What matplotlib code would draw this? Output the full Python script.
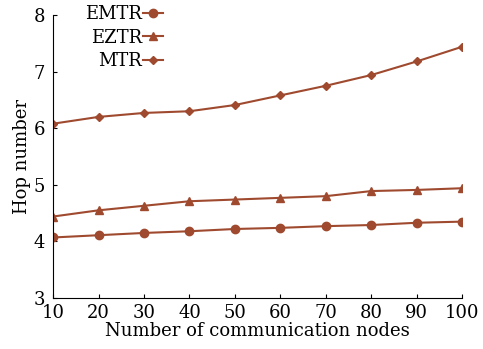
import numpy as np
import matplotlib.pyplot as plt

# hop counts versus network size
nodes = [10, 20, 30, 40, 50, 60, 70, 80, 90, 100]
emtr = [4.07, 4.11, 4.15, 4.18, 4.22, 4.24, 4.27, 4.29, 4.33, 4.35]
eztr = [4.44, 4.55, 4.63, 4.71, 4.74, 4.77, 4.80, 4.89, 4.91, 4.94]
mtr = [6.08, 6.20, 6.27, 6.30, 6.41, 6.58, 6.75, 6.94, 7.18, 7.44]

col = "#9f4a2f"
plt.rcParams['font.family'] = ['DejaVu Serif']
plt.rcParams['font.size'] = 13

fig = plt.figure(figsize=(4.83, 3.49), dpi=100)
ax = fig.add_axes([0.110, 0.146, 0.847, 0.811])

ax.plot(nodes, emtr, color=col, marker='o', ms=6, lw=1.5, label='EMTR')
ax.plot(nodes, eztr, color=col, marker='^', ms=6, lw=1.5, label='EZTR')
ax.plot(nodes, mtr, color=col, marker='D', ms=4, lw=1.5, label='MTR')

ax.set_xlim(10, 100)
ax.set_ylim(3, 8)
ax.set_xticks(nodes)
ax.set_yticks([3, 4, 5, 6, 7, 8])
ax.tick_params(direction='in', length=3)
ax.tick_params(axis='x', pad=4)
ax.tick_params(axis='y', pad=6)
for s in ['top', 'right']:
    ax.spines[s].set_visible(False)

ax.set_xlabel("Number of communication nodes", labelpad=0)
ax.set_ylabel("Hop number", labelpad=2)

ax.legend(loc='upper left', bbox_to_anchor=(0.06, 1.06), frameon=False,
          markerfirst=False, handlelength=1.1, handletextpad=0.05,
          labelspacing=0.3, borderaxespad=0)

fig.savefig("out.png", dpi=100)
